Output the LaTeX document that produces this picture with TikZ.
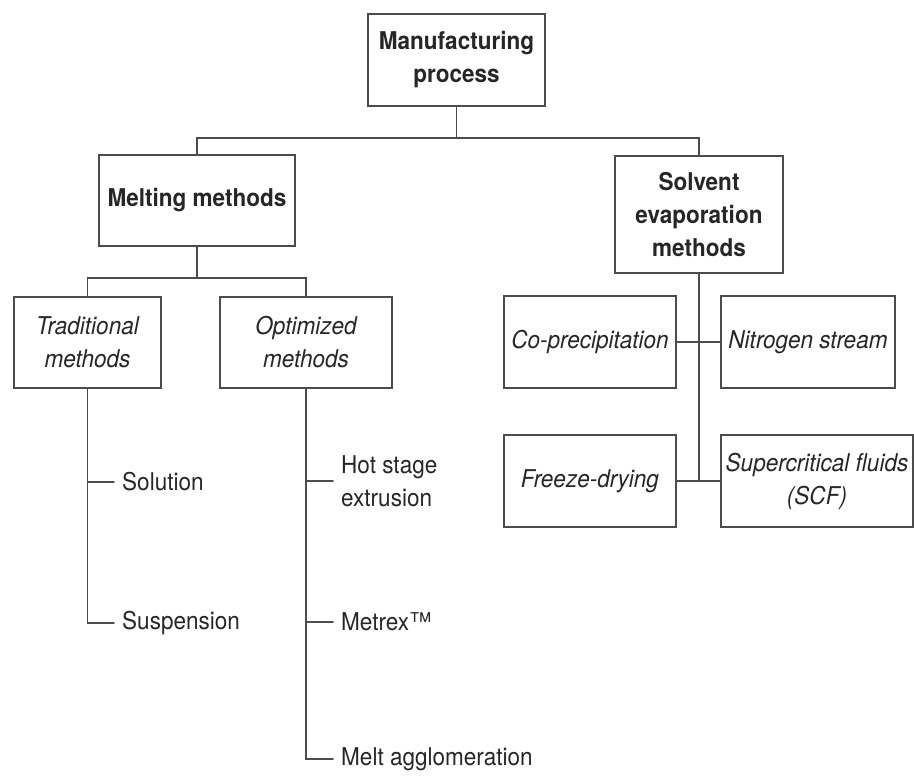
\documentclass[tikz,border=0pt]{standalone}
\usepackage{fontspec}
\setmainfont[FakeStretch=0.92]{TeX Gyre Heros}
\usetikzlibrary{positioning}

\begin{document}
\begin{tikzpicture}[x=1pt,y=-1pt,line cap=round,
    txt/.style={text=black!85,font=\fontsize{24.5}{33}\selectfont},
    box/.style={txt,draw=black!70,line width=1.6pt,align=center,inner sep=0pt},
    headbox/.style={box,font=\fontsize{24.5}{33}\selectfont\bfseries},
    subbox/.style={box,font=\fontsize{24.5}{33}\selectfont\itshape},
    leaf/.style={txt,anchor=west,align=left,inner xsep=8pt,inner ysep=0pt},
    link/.style={draw=black!70,line width=1.6pt}]
  \useasboundingbox (0,0) rectangle (914,776);

  % top levels
  \node[headbox,minimum width=177pt,minimum height=92pt] (mfg) at (456.5,60) {Manufacturing\\process};
  \node[headbox,minimum width=196pt,minimum height=91pt] (melt) at (197,200.5) {Melting methods};
  \node[headbox,minimum width=168pt,minimum height=117pt] (solv) at (699,214.5) {Solvent\\evaporation\\methods};

  \node[subbox,minimum width=147pt,minimum height=91pt] (trad) at (87.5,342.5) {Traditional\\methods};
  \node[subbox,minimum width=172pt,minimum height=91pt] (opt) at (306,342.5) {Optimized\\methods};

  \node[subbox,minimum width=172pt,minimum height=92pt] (coprec) at (590,342) {Co-precipitation};
  \node[subbox,minimum width=174pt,minimum height=92pt] (nitro) at (808,342) {Nitrogen stream};
  \node[subbox,minimum width=172pt,minimum height=92pt] (freeze) at (590,481) {Freeze-drying};
  \node[subbox,minimum width=192pt,minimum height=92pt] (scf) at (817,481) {Supercritical fluids\\(SCF)};

  % leaves
  \node[leaf] (sol) at (114,482) {Solution};
  \node[leaf] (susp) at (114,623) {Suspension};
  \node[leaf] (hse) at (333,481) {Hot stage\\extrusion};
  \node[leaf] (metrex) at (333,622) {Metrex™};
  \node[leaf] (magg) at (333,759) {Melt agglomeration};

  \coordinate (jtop) at (456.5,138);
  \coordinate (jmelt) at (197,278);

  \draw[link] (mfg) -- (jtop);
  \draw[link] (melt.north) |- (jtop) -| (solv.north);
  \draw[link] (melt) -- (jmelt);
  \draw[link] (trad.north) |- (jmelt) -| (opt.north);

  \draw[link] (trad.south) -- (trad.south |- susp.west) -- (susp.west);
  \draw[link] (trad.south |- sol.west) -- (sol.west);
  \draw[link] (opt.south) -- (opt.south |- magg.west) -- (magg.west);
  \draw[link] (opt.south |- hse.west) -- (hse.west);
  \draw[link] (opt.south |- metrex.west) -- (metrex.west);

  \draw[link] (solv.south) -- (solv.south |- freeze.east);
  \draw[link] (coprec.east) -- (nitro.west);
  \draw[link] (freeze.east) -- (scf.west);
\end{tikzpicture}
\end{document}
